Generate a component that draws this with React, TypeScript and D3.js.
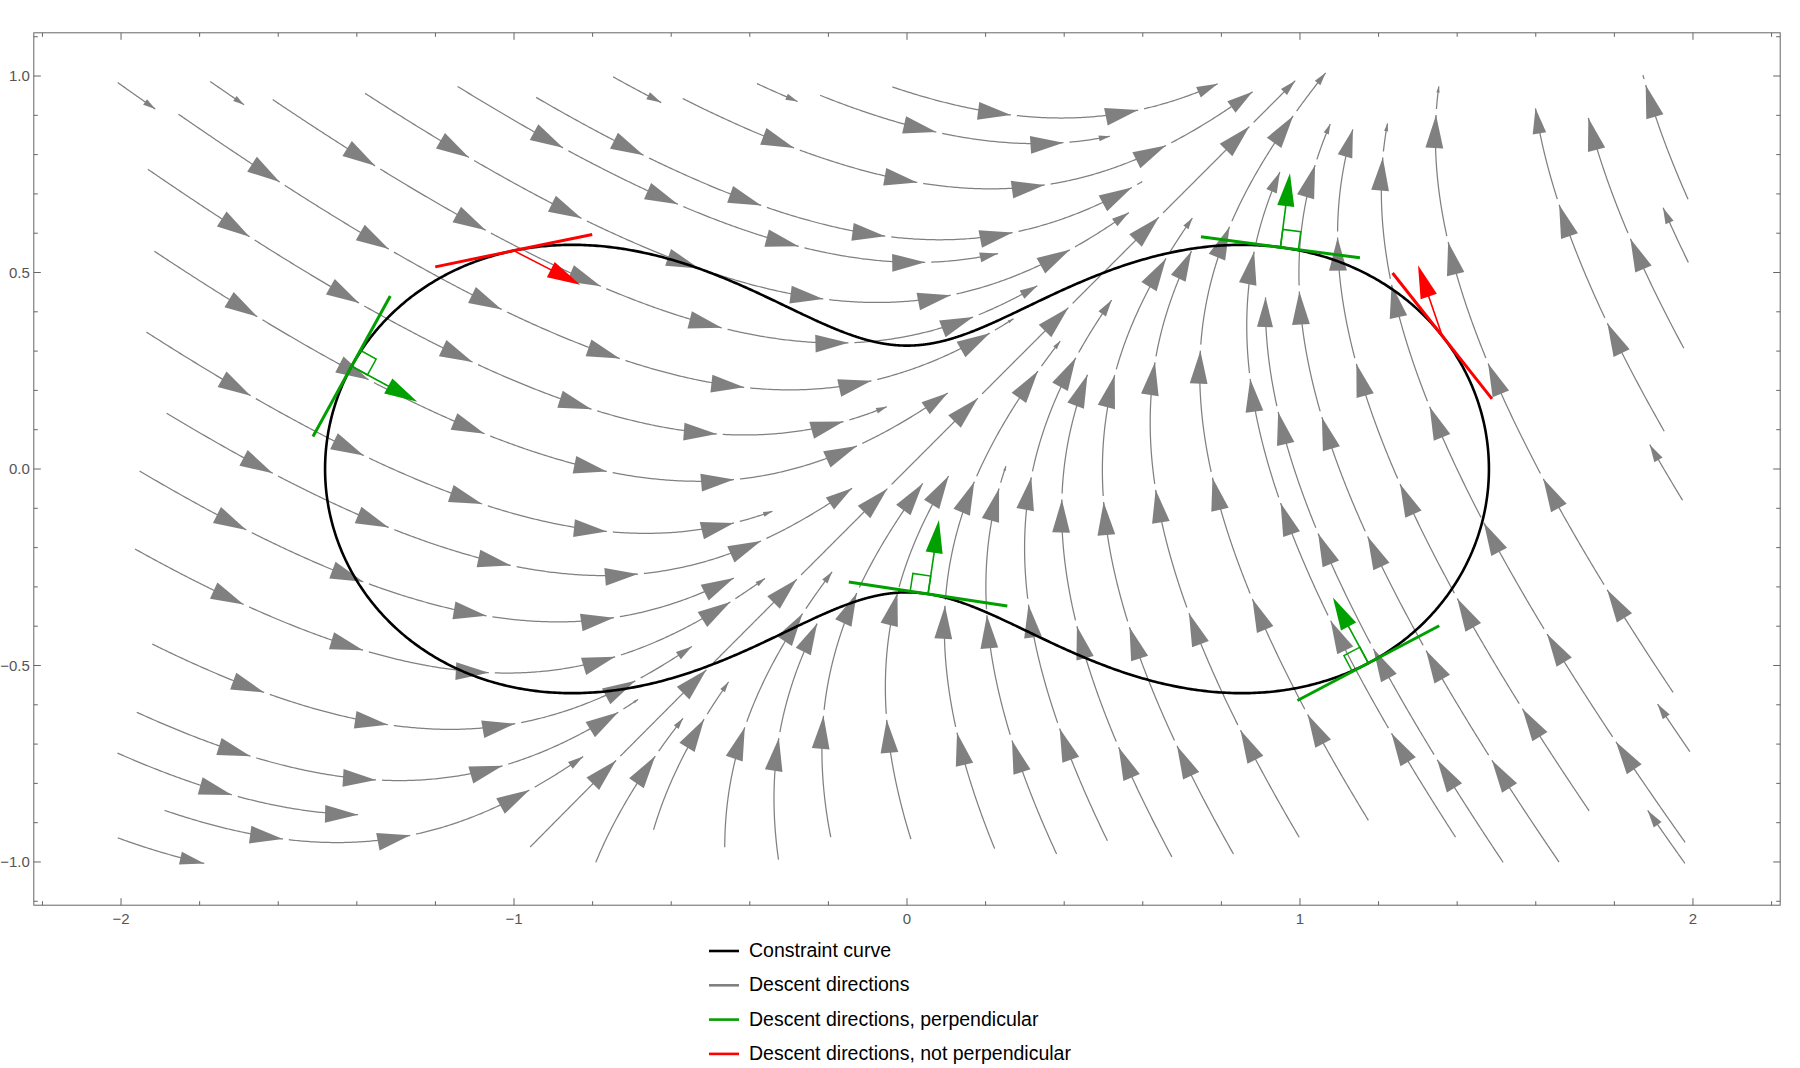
import React, { useMemo } from 'react';
import * as d3 from 'd3';

// ---------------- data ----------------
// Objective whose descent directions are drawn: f(x, y) = a (x - y)^2 + b x + c y
const objectiveCoeffs = [1, -1, -1];

// Constraint curve: (x^2 + y^2)^2 - a x^2 + b y^2 - k = 0
const constraintCoeffs = [2.103, 1.9, 0.197];

// Streamlines: tail (x0, y0) and end (x1, y1).
// NaN end = the line runs until it comes close to an earlier line.
const streamLines: number[][] = [
  [1.974, 0.7, 1.882, 0.993],
  [1.964, 0.32, 1.739, 0.892],
  [1.917, 0.106, 1.603, 0.914],
  [1.996, -0.373, 1.46, 0.888],
  [1.932, -0.551, 1.356, 0.971],
  [1.86, -0.83, 1.238, 0.864],
  [1.803, -0.937, 1.128, 0.871],
  [1.66, -1.001, 1.077, 0.878],
  [1.396, -0.937, 0.949, 0.756],
  [0.817, -0.966, 0.727, 0.638],
  [0.509, -0.945, 0.521, 0.43],
  [0.374, -0.973, 0.253, 0.006],
  [0.009, -0.941, 0.106, -0.018],
  [1.979, 0.535, 1.932, 0.657],
  [1.967, -0.073, 1.896, 0.056],
  [1.989, -0.716, 1.913, -0.601],
  [1.975, -0.999, 1.889, -0.873],
  [-0.959, -0.962, 0.984, 0.992],
  [-0.039, 0.974, 0.791, 0.98],
  [-0.22, 0.95, 0.516, 0.847],
  [-0.585, 0.957, 0.88, 0.959],
  [-0.963, 0.965, 0.6, 0.73],
  [-1.139, 0.969, 0.231, 0.549],
  [-1.418, 0.995, 0.566, 0.651],
  [-1.925, 0.756, -0.052, 0.159],
  [-1.924, 0.563, 0.104, 0.193],
  [-1.94, 0.353, -0.342, -0.108],
  [-1.881, 0.139, -0.14, -0.049],
  [-1.936, -0.022, -0.442, -0.276],
  [-1.974, -0.194, -0.361, -0.279],
  [-1.943, -0.423, -0.546, -0.453],
  [-2.002, -0.73, -1.381, -0.877],
  [-1.902, -0.856, -0.823, -0.733],
  [-2.002, -0.945, -1.793, -0.999],
  [-2.003, 0.978, -1.918, 0.921],
  [-1.775, 0.988, -1.685, 0.925],
  [-0.745, 0.995, -0.628, 0.935],
  [-0.382, 0.981, -0.278, 0.935],
  [-0.645, -0.918, -0.454, -0.542],
  [-0.467, -0.959, -0.19, -0.262],
  [1.517, -1.001, NaN, NaN],
  [1.174, -0.894, NaN, NaN],
  [0.998, -0.937, NaN, NaN],
  [0.674, -0.987, NaN, NaN],
  [0.223, -0.966, NaN, NaN],
  [-1.614, 0.94, NaN, NaN],
  [-1.854, 0.903, NaN, NaN],
  [-1.96, -0.619, NaN, NaN],
  [-0.792, -1.001, NaN, NaN],
  [-0.327, -0.994, NaN, NaN],
  [-0.194, -0.937, NaN, NaN],
];

// points on the constraint curve where descent directions are shown
const perpendicularPoints = [
  [-1.414, 0.262],
  [0.053, -0.322],
  [0.95, 0.562],
  [1.175, -0.496],
];
const nonPerpendicularPoints = [
  [-1.0, 0.552],
  [1.36, 0.337],
];

const xMajorTicks = [-2, -1, 0, 1, 2];
const xTickLabels = ['\u22122', '\u22121', '0', '1', '2'];
const xMinorTicks = [-2.2, -1.8, -1.6, -1.4, -1.2, -0.8, -0.6, -0.4, -0.2, 0.2, 0.4, 0.6, 0.8, 1.2, 1.4, 1.6, 1.8, 2.2];
const yMajorTicks = [-1, -0.5, 0, 0.5, 1];
const yTickLabels = ['\u22121.0', '\u22120.5', '0.0', '0.5', '1.0'];
const yMinorTicks = [-1.1, -0.9, -0.8, -0.7, -0.6, -0.4, -0.3, -0.2, -0.1, 0.1, 0.2, 0.3, 0.4, 0.6, 0.7, 0.8, 0.9, 1.1];

const legendLabels = [
  'Constraint curve',
  'Descent directions',
  'Descent directions, perpendicular',
  'Descent directions, not perpendicular',
];
const legendColors = ['#000000', '#808080', '#00a000', '#ff0000'];

// ---------------- layout ----------------
const W = 1800;
const H = 1068;
const FRAME = { left: 33.8, right: 1780.2, top: 32.8, bottom: 905.2 };
const X_DOMAIN = [-2.222, 2.222];
const Y_DOMAIN = [-1.11, 1.11];
const GRAY = '#808080';
const GREEN = '#00a000';
const RED = '#ff0000';
const AXIS = '#666666';
const SEG = 122;
const PERIOD = 128;
const ARROW_LEN = 33;

type P2 = [number, number];

// ---------------- math helpers ----------------
const [fa, fb, fc] = objectiveCoeffs;
const descent = (x: number, y: number): P2 => [-(2 * fa * (x - y) + fb), -(-2 * fa * (x - y) + fc)];

const [ga, gb, gk] = constraintCoeffs;
const G = (x: number, y: number) => (x * x + y * y) ** 2 - ga * x * x + gb * y * y - gk;
const gradG = (x: number, y: number): P2 => {
  const r2 = x * x + y * y;
  return [4 * x * r2 - 2 * ga * x, 4 * y * r2 + 2 * gb * y];
};

// exact streamlines of the descent field: (y - x) * exp(2a (x + y)) is constant along a line
const invariant = (x: number, y: number) => (y - x) * Math.exp(2 * fa * (x + y));
const pointAt = (C: number, s: number): P2 => {
  const w = C * Math.exp(-2 * fa * s);
  return [(s - w) / 2, (s + w) / 2];
};

function traceLines(): P2[][] {
  const cell = 0.05;
  const hash = new Map<string, P2[]>();
  const key = (i: number, j: number) => i + ',' + j;
  const addPts = (pts: P2[]) => {
    pts.forEach((p) => {
      const k = key(Math.floor(p[0] / cell), Math.floor(p[1] / cell));
      if (!hash.has(k)) hash.set(k, []);
      hash.get(k)!.push(p);
    });
  };
  const near = (p: P2, r: number) => {
    const i0 = Math.floor(p[0] / cell);
    const j0 = Math.floor(p[1] / cell);
    for (let i = i0 - 1; i <= i0 + 1; i++)
      for (let j = j0 - 1; j <= j0 + 1; j++) {
        const arr = hash.get(key(i, j));
        if (!arr) continue;
        for (const q of arr) if ((q[0] - p[0]) ** 2 + (q[1] - p[1]) ** 2 < r * r) return true;
      }
    return false;
  };
  const out: P2[][] = [];
  streamLines.forEach(([x0, y0, x1, y1]) => {
    const hasEnd = isFinite(x1);
    let C = invariant(x0, y0);
    if (hasEnd) {
      const c1 = invariant(x1, y1);
      if (C * c1 > 0) C = Math.sign(C) * Math.sqrt(C * c1);
    }
    const s0 = x0 + y0;
    const sEnd = hasEnd ? x1 + y1 : Infinity;
    let s = s0;
    let prev = pointAt(C, s);
    const pts: P2[] = [prev];
    let travelled = 0;
    let guard = 0;
    while (s < sEnd && guard++ < 8000) {
      const w = C * Math.exp(-2 * fa * s);
      const speed = Math.sqrt(0.5 + 2 * w * w);
      let ds = 0.005 / speed;
      if (s + ds > sEnd) ds = sEnd - s;
      s += ds;
      const p = pointAt(C, s);
      if (p[0] < -2.01 || p[0] > 2.01 || p[1] < -1.01 || p[1] > 1.01) break;
      travelled += Math.hypot(p[0] - prev[0], p[1] - prev[1]);
      if (!hasEnd && travelled > 0.06 && near(p, 0.045)) break;
      pts.push(p);
      prev = p;
      if (ds <= 0) break;
    }
    addPts(pts);
    out.push(pts);
  });
  return out;
}

function cumulative(pts: P2[]) {
  const cum = [0];
  for (let i = 1; i < pts.length; i++) cum.push(cum[i - 1] + Math.hypot(pts[i][0] - pts[i - 1][0], pts[i][1] - pts[i - 1][1]));
  return cum;
}
function interp(pts: P2[], cum: number[], t: number): P2 {
  if (t <= 0) return pts[0];
  const n = pts.length - 1;
  if (t >= cum[n]) return pts[n];
  let lo = 0;
  let hi = n;
  while (hi - lo > 1) {
    const m = (lo + hi) >> 1;
    if (cum[m] <= t) lo = m;
    else hi = m;
  }
  const f = (t - cum[lo]) / (cum[hi] - cum[lo] || 1);
  return [pts[lo][0] + f * (pts[hi][0] - pts[lo][0]), pts[lo][1] + f * (pts[hi][1] - pts[lo][1])];
}

function arrowPath(tip: P2, dir: P2, len: number, ratio = 0.27) {
  const [dx, dy] = dir;
  const bx = tip[0] - dx * len;
  const by = tip[1] - dy * len;
  const hw = len * ratio;
  return `M${tip[0]},${tip[1]}L${bx - dy * hw},${by + dx * hw}L${bx + dy * hw},${by - dx * hw}Z`;
}

const unit = (v: P2): P2 => {
  const n = Math.hypot(v[0], v[1]) || 1;
  return [v[0] / n, v[1] / n];
};

function snap(p: number[]): P2 {
  let [x, y] = p;
  for (let i = 0; i < 8; i++) {
    const g = G(x, y);
    const [gx, gy] = gradG(x, y);
    const n2 = gx * gx + gy * gy;
    x -= (g * gx) / n2;
    y -= (g * gy) / n2;
  }
  return [x, y];
}

export default function App() {
  const xs = d3.scaleLinear().domain(X_DOMAIN).range([FRAME.left, FRAME.right]);
  const ys = d3.scaleLinear().domain(Y_DOMAIN).range([FRAME.bottom, FRAME.top]);
  const toPx = (p: P2): P2 => [xs(p[0]), ys(p[1])];
  const line = d3.line<P2>();

  const streams = useMemo(() => {
    const lines = traceLines();
    const segs: { d: string; arrow: string }[] = [];
    lines.forEach((dpts) => {
      if (dpts.length < 2) return;
      const pts = dpts.map(toPx);
      const cum = cumulative(pts);
      const L = cum[cum.length - 1];
      for (let start = 0; start < L - 3; start += PERIOD) {
        const end = Math.min(start + SEG, L);
        const sub: P2[] = [interp(pts, cum, start)];
        for (let i = 0; i < pts.length; i++) if (cum[i] > start && cum[i] < end) sub.push(pts[i]);
        const tip = interp(pts, cum, end);
        sub.push(tip);
        const back = interp(pts, cum, Math.max(start, end - 4));
        const dir = unit([tip[0] - back[0], tip[1] - back[1]]);
        const len = ARROW_LEN * Math.min(1, (end - start) / SEG);
        segs.push({ d: line(sub) || '', arrow: arrowPath(tip, dir, len) });
      }
    });
    return segs;
  }, []);

  const curvePath = useMemo(() => {
    const thetas = d3.range(0, 2 * Math.PI, Math.PI / 900);
    const pts: P2[] = thetas.map((t) => {
      const A = ga * Math.cos(t) ** 2 - gb * Math.sin(t) ** 2;
      const r = Math.sqrt((A + Math.sqrt(A * A + 4 * gk)) / 2);
      return toPx([r * Math.cos(t), r * Math.sin(t)]);
    });
    return d3.line<P2>().curve(d3.curveLinearClosed)(pts) || '';
  }, []);

  const markers = useMemo(() => {
    const make = (pt: number[], color: string, square: boolean) => {
      const P = snap(pt);
      const [gx, gy] = gradG(P[0], P[1]);
      const t = unit([gy, -gx]);
      const d = unit(descent(P[0], P[1]));
      const sgn = gx * d[0] + gy * d[1] > 0 ? 1 : -1;
      const n = unit([gx * sgn, gy * sgn]);
      const half = 0.204;
      const tanA = toPx([P[0] - t[0] * half, P[1] - t[1] * half]);
      const tanB = toPx([P[0] + t[0] * half, P[1] + t[1] * half]);
      const base = toPx(P);
      const tip = toPx([P[0] + d[0] * 0.19, P[1] + d[1] * 0.19]);
      const pdir = unit([tip[0] - base[0], tip[1] - base[1]]);
      const h = 0.046;
      const sq = square
        ? [P, [P[0] + t[0] * h, P[1] + t[1] * h], [P[0] + t[0] * h + n[0] * h, P[1] + t[1] * h + n[1] * h], [P[0] + n[0] * h, P[1] + n[1] * h]].map((q) => toPx(q as P2))
        : null;
      const shaftEnd: P2 = [tip[0] - pdir[0] * 20, tip[1] - pdir[1] * 20];
      return { color, tanA, tanB, base, tip, shaftEnd, head: arrowPath(tip, pdir, 33, 0.26), sq };
    };
    return [
      ...perpendicularPoints.map((p) => make(p, GREEN, true)),
      ...nonPerpendicularPoints.map((p) => make(p, RED, false)),
    ];
  }, []);

  const font = "'Liberation Sans', Arial, Helvetica, sans-serif";

  return (
    <svg width={W} height={H} style={{ position: 'absolute', left: 0, top: 0, background: '#fff' }}>
      <rect x={0} y={0} width={W} height={H} fill="#ffffff" />
      {/* streamlines */}
      <g>
        {streams.map((s, i) => (
          <g key={i}>
            <path d={s.d} fill="none" stroke={GRAY} strokeWidth={1.25} />
            <path d={s.arrow} fill={GRAY} stroke="none" />
          </g>
        ))}
      </g>
      {/* constraint curve */}
      <path d={curvePath} fill="none" stroke="#000" strokeWidth={2.6} />
      {/* descent direction markers */}
      {markers.map((m, i) => (
        <g key={i}>
          <line x1={m.tanA[0]} y1={m.tanA[1]} x2={m.tanB[0]} y2={m.tanB[1]} stroke={m.color} strokeWidth={3} />
          {m.sq && <polygon points={m.sq.map((q) => q.join(',')).join(' ')} fill="none" stroke={m.color} strokeWidth={1.5} />}
          <line x1={m.base[0]} y1={m.base[1]} x2={m.shaftEnd[0]} y2={m.shaftEnd[1]} stroke={m.color} strokeWidth={1.6} />
          <path d={m.head} fill={m.color} />
        </g>
      ))}
      {/* frame */}
      <rect x={FRAME.left} y={FRAME.top} width={FRAME.right - FRAME.left} height={FRAME.bottom - FRAME.top} fill="none" stroke={AXIS} strokeWidth={1} />
      {/* ticks */}
      <g stroke={AXIS} strokeWidth={1}>
        {xMajorTicks.map((v) => (
          <g key={'xM' + v}>
            <line x1={xs(v)} x2={xs(v)} y1={FRAME.bottom} y2={FRAME.bottom - 7} />
            <line x1={xs(v)} x2={xs(v)} y1={FRAME.top} y2={FRAME.top + 7} />
          </g>
        ))}
        {xMinorTicks.map((v) => (
          <g key={'xm' + v}>
            <line x1={xs(v)} x2={xs(v)} y1={FRAME.bottom} y2={FRAME.bottom - 4} />
            <line x1={xs(v)} x2={xs(v)} y1={FRAME.top} y2={FRAME.top + 4} />
          </g>
        ))}
        {yMajorTicks.map((v) => (
          <g key={'yM' + v}>
            <line y1={ys(v)} y2={ys(v)} x1={FRAME.left} x2={FRAME.left + 7} />
            <line y1={ys(v)} y2={ys(v)} x1={FRAME.right} x2={FRAME.right - 7} />
          </g>
        ))}
        {yMinorTicks.map((v) => (
          <g key={'ym' + v}>
            <line y1={ys(v)} y2={ys(v)} x1={FRAME.left} x2={FRAME.left + 4} />
            <line y1={ys(v)} y2={ys(v)} x1={FRAME.right} x2={FRAME.right - 4} />
          </g>
        ))}
      </g>
      {/* tick labels */}
      <g fill="#555" fontFamily={font} fontSize={15}>
        {xMajorTicks.map((v, i) => (
          <text key={'xl' + v} x={xs(v)} y={FRAME.bottom + 19} textAnchor="middle">
            {xTickLabels[i]}
          </text>
        ))}
        {yMajorTicks.map((v, i) => (
          <text key={'yl' + v} x={FRAME.left - 4} y={ys(v) + 5.3} textAnchor="end">
            {yTickLabels[i]}
          </text>
        ))}
      </g>
      {/* legend */}
      <g fontFamily={font} fontSize={19.5}>
        {legendLabels.map((lab, i) => {
          const ly = 951 + i * 34.3;
          return (
            <g key={lab}>
              <line x1={709} x2={739} y1={ly} y2={ly} stroke={legendColors[i]} strokeWidth={2.6} />
              <text x={749} y={ly + 6} fill="#000">
                {lab}
              </text>
            </g>
          );
        })}
      </g>
    </svg>
  );
}
